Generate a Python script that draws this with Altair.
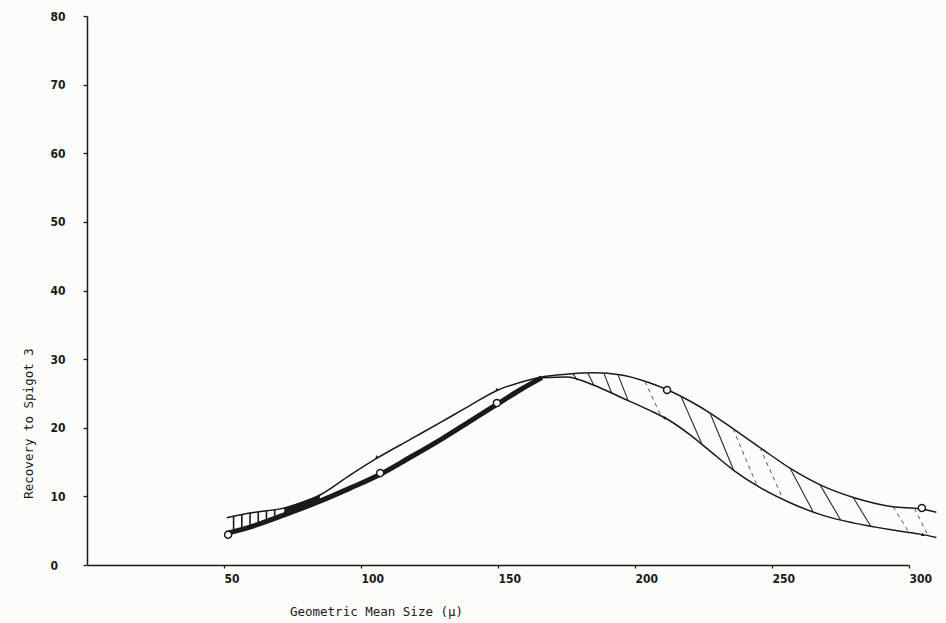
import altair as alt
import pandas as pd
import numpy as np

# ---- data ----
size_um = [51, 60, 72, 85, 96, 106, 118, 130, 140, 150, 158, 166, 175, 185, 195,
           205, 212, 220, 228, 236, 246, 257, 268, 280, 294, 304, 310]
upper_rec = [6.9, 7.6, 8.3, 10.2, 13.1, 15.6, 18.3, 21.0, 23.3, 25.5, 26.6, 27.4, 27.8, 28.0, 27.7,
             26.6, 25.5, 23.9, 22.0, 19.8, 17.0, 14.0, 11.6, 9.8, 8.5, 8.2, 7.7]
lower_rec = [4.6, 5.6, 7.3, 9.3, 11.2, 13.0, 15.7, 18.5, 21.0, 23.5, 25.5, 27.3, 27.4, 26.2, 24.4,
             22.6, 21.2, 19.0, 16.4, 13.8, 11.2, 9.0, 7.3, 6.1, 5.1, 4.5, 4.0]

# measured points
circle_x = [51.5, 107, 149.6, 211.7, 304.7]
circle_y = [4.4, 13.4, 23.6, 25.5, 8.3]
tick_x = [105.8, 149.6, 211.0, 305.0]
tick_y = [15.7, 25.5, 21.4, 4.4]

# hatching (x where a hatch line leaves the upper curve, and where it meets the lower one)
hatch_left = [53.5, 56.5, 59.5, 62.5, 65.5, 68.5]
hatch_up = [177.4, 182.8, 188.7, 193.8, 216.8, 227.4, 256.6, 267.5, 279.6]
hatch_dn = [179.0, 185.0, 191.5, 197.5, 224.5, 236.0, 265.0, 275.0, 286.0]
hatch_dash_up = [203.6, 235.8, 245.6, 294.2, 302.0]
hatch_dash_dn = [209.5, 244.5, 254.0, 300.0, 307.0]

x_ticks = [50, 100, 150, 200, 250, 300]
y_ticks = [0, 10, 20, 30, 40, 50, 60, 70, 80]

# ---- tables ----
curves = pd.DataFrame({"x": size_um, "upper": upper_rec, "lower": lower_rec})
lower_left = curves[curves.x <= 166]
lower_right = curves[curves.x >= 166]
black_band = curves[(curves.x >= 72) & (curves.x <= 85)]


def up_at(v):
    return float(np.interp(v, size_um, upper_rec))


def lo_at(v):
    return float(np.interp(v, size_um, lower_rec))


hl = pd.DataFrame({"x": hatch_left, "x2": hatch_left,
                   "y": [up_at(v) for v in hatch_left],
                   "y2": [lo_at(v) + 0.3 for v in hatch_left]})
hr = pd.DataFrame({"x": hatch_up, "x2": hatch_dn,
                   "y": [up_at(v) for v in hatch_up],
                   "y2": [lo_at(v) for v in hatch_dn]})
hd = pd.DataFrame({"x": hatch_dash_up, "x2": hatch_dash_dn,
                   "y": [up_at(v) for v in hatch_dash_up],
                   "y2": [lo_at(v) for v in hatch_dash_dn]})
circles = pd.DataFrame({"x": circle_x, "y": circle_y})
ticks = pd.DataFrame({"x": tick_x, "y": tick_y})

INK = "#1a1a1a"
xs = alt.Scale(domain=[0, 300], nice=False, zero=True)
ys = alt.Scale(domain=[0, 80], nice=False)

x_axis = alt.Axis(values=x_ticks, title="Geometric Mean Size (\u03bc)", grid=False,
                  tickSize=3, labelAlign="left", labelPadding=5, labelBaseline="top",
                  titleX=289, titleY=46, titleBaseline="middle", titleAlign="center")
y_axis = alt.Axis(values=y_ticks, title="Recovery to Spigot 3", grid=False,
                  tickSize=4, labelAlign="left", labelPadding=33, labelBaseline="middle",
                  titleX=-59, titleY=407, titleBaseline="middle", titleAlign="center")


def X(f="x:Q"):
    return alt.X(f, scale=xs, axis=x_axis)


def Y(f):
    return alt.Y(f, scale=ys, axis=y_axis)


upper_line = alt.Chart(curves).mark_line(color=INK, strokeWidth=1.5, interpolate="monotone").encode(
    x=X(), y=Y("upper:Q"))
band = alt.Chart(black_band).mark_area(color=INK, interpolate="monotone").encode(
    x=X(), y=Y("upper:Q"), y2="lower:Q")
low_thick = alt.Chart(lower_left).mark_line(color=INK, strokeWidth=5, interpolate="monotone").encode(
    x=X(), y=Y("lower:Q"))
low_thin = alt.Chart(lower_right).mark_line(color=INK, strokeWidth=1.5, interpolate="monotone").encode(
    x=X(), y=Y("lower:Q"))


def hatch(df, **kw):
    return alt.Chart(df).mark_rule(**kw).encode(x=X(), x2="x2:Q", y=Y("y:Q"), y2="y2:Q")


h_left = hatch(hl, color=INK, strokeWidth=1.6)
h_right = hatch(hr, color="#2a2a2a", strokeWidth=1.1)
h_dash = hatch(hd, color="#555555", strokeWidth=1.0, strokeDash=[4, 4])

pts_c = alt.Chart(circles).mark_point(shape="circle", size=50, filled=True, fill="white",
                                      stroke=INK, strokeWidth=1.4, opacity=1).encode(
    x=X(), y=Y("y:Q"))
pts_t = alt.Chart(ticks).mark_point(shape="triangle", size=14, filled=True, color=INK, opacity=1).encode(
    x=X(), y=Y("y:Q"))

chart = alt.layer(upper_line, band, h_left, h_right, h_dash, low_thick, low_thin, pts_c, pts_t).properties(
    width=822, height=549,
    autosize=alt.AutoSizeParams(type="none"),
    padding={"left": 87, "top": 16, "right": 37, "bottom": 58},
    background="#fcfcfb",
).configure_view(stroke=None).configure_axis(
    domainColor=INK, domainWidth=1.5, tickColor=INK, tickWidth=1.3,
    labelFont="DejaVu Sans Condensed", labelFontWeight="bold", labelFontSize=12, labelColor=INK,
    titleFont="DejaVu Sans Mono", titleFontSize=12.5, titleFontWeight="normal", titleColor=INK,
)

chart.save("out.html", embed_options={"renderer": "svg", "actions": False})
